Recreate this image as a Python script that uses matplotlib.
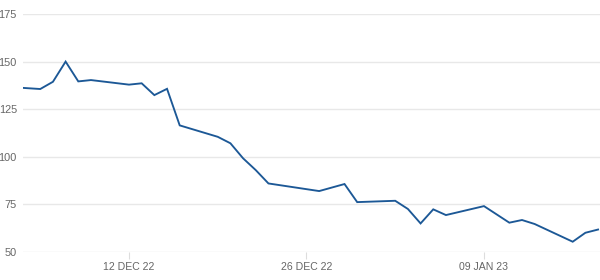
import matplotlib
matplotlib.use("Agg")
import matplotlib.pyplot as plt
import matplotlib.dates as mdates
import numpy as np
import pandas as pd

dates = ["2022-12-02", "2022-12-05", "2022-12-06", "2022-12-07", "2022-12-08", "2022-12-09",
         "2022-12-12", "2022-12-13", "2022-12-14", "2022-12-15", "2022-12-16",
         "2022-12-19", "2022-12-20", "2022-12-21", "2022-12-22", "2022-12-23",
         "2022-12-27", "2022-12-29", "2022-12-30",
         "2023-01-02", "2023-01-03", "2023-01-04", "2023-01-05", "2023-01-06",
         "2023-01-09", "2023-01-11", "2023-01-12", "2023-01-13",
         "2023-01-16", "2023-01-17", "2023-01-18"]
values = [136.9, 135.6, 139.4, 150.0, 139.6, 140.3,
          137.9, 138.6, 132.4, 135.7, 116.5,
          110.5, 107.1, 99.2, 93.0, 86.0,
          82.0, 85.7, 76.2,
          76.9, 72.6, 65.0, 72.4, 69.4,
          74.1, 65.4, 66.8, 64.7,
          55.4, 60.1, 61.8]
y_ticks = [50, 75, 100, 125, 150, 175]
x_ticks = ["2022-12-12", "2022-12-26", "2023-01-09"]
x_tick_labels = ["12 DEC 22", "26 DEC 22", "09 JAN 23"]

plt.rcParams['font.family'] = ['Liberation Sans', 'DejaVu Sans']

fig = plt.figure(figsize=(6, 2.8), dpi=100)
ax = fig.add_axes([23/600, 28/280, 577/600, 238/280])

d = pd.to_datetime(dates)
ax.plot(d, values, color="#1c5896", lw=1.35, solid_joinstyle="miter", clip_on=True)

left = pd.Timestamp("2022-12-03 15:20")
right = pd.Timestamp("2023-01-18 03:40")
ax.set_xlim(left, right)
ax.set_ylim(50, 175)

ax.set_yticks(y_ticks)
ax.set_yticklabels([str(v) for v in y_ticks])
ax.set_xticks(pd.to_datetime(x_ticks))
ax.set_xticklabels(x_tick_labels)

ax.grid(axis="y", color="#e8e8e8", lw=1)
ax.set_axisbelow(True)
for s in ax.spines.values():
    s.set_visible(False)
ax.tick_params(axis="y", length=0, pad=4.3, labelsize=7.9, labelcolor="#666666")
ax.tick_params(axis="x", length=5, width=0.8, color="#dddddd", pad=2.5, labelsize=7.6, labelcolor="#666666")

fig.savefig("out.png", dpi=100)
